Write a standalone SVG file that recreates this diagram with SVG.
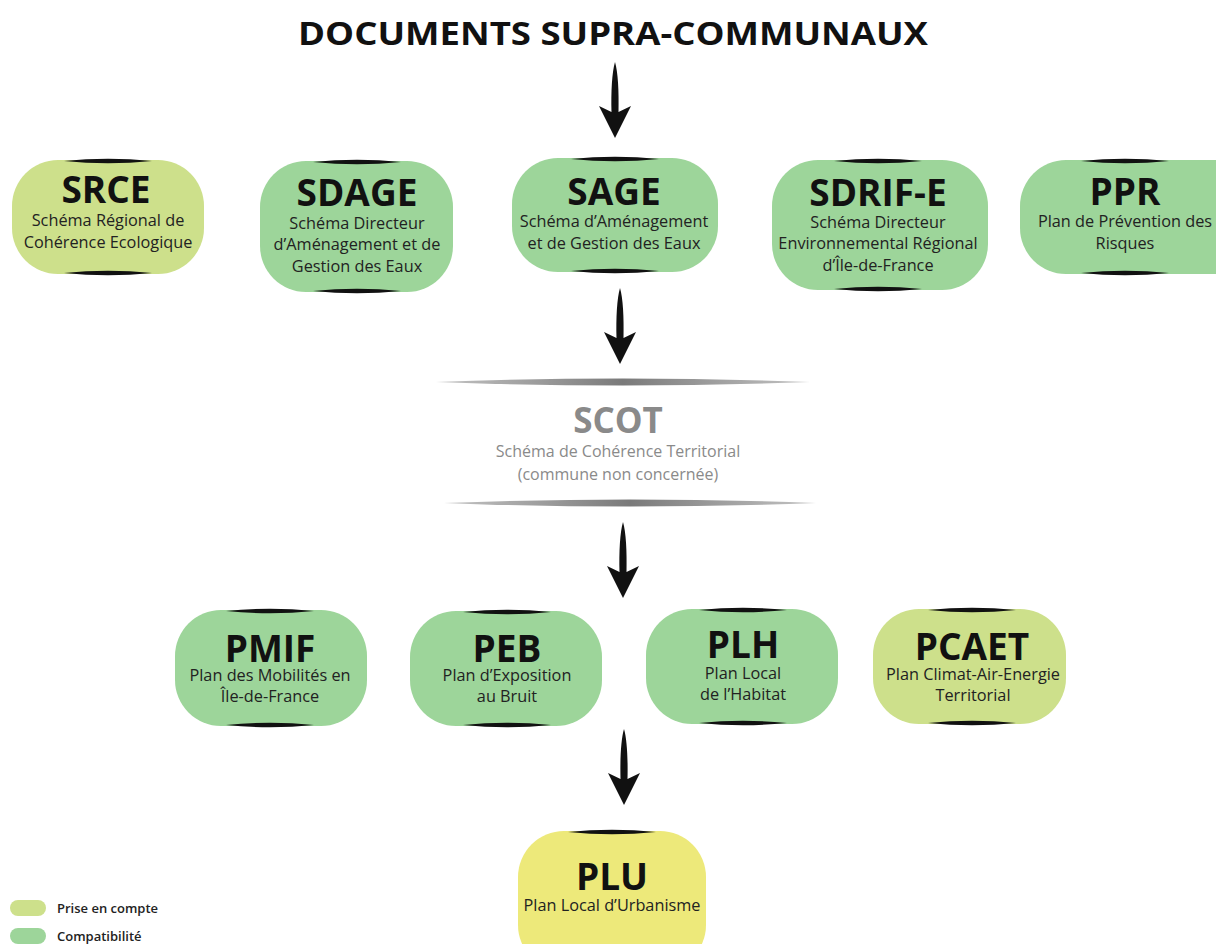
<svg xmlns="http://www.w3.org/2000/svg" width="1216" height="944" viewBox="0 0 1216 944">
<style>
.pc{fill:#cde08b}
.co{fill:#9dd59a}
.plu{fill:#ede97a}
.t{font-family:"Open Sans","Liberation Sans",sans-serif;font-weight:700;font-size:37px;fill:#111;text-anchor:middle}
.s{font-family:"Open Sans","Liberation Sans",sans-serif;font-size:16.3px;fill:#222;text-anchor:middle}
.gt{font-family:"Open Sans","Liberation Sans",sans-serif;font-weight:700;font-size:35px;fill:#8a8a8a;text-anchor:middle}
.gs{font-family:"Open Sans","Liberation Sans",sans-serif;font-size:16px;fill:#8a8a8a;text-anchor:middle}
.leg{font-family:"Open Sans","Liberation Sans",sans-serif;font-size:13px;font-weight:600;fill:#222}
.mark{fill:#111}
</style>
<defs>
<path id="arrow" d="M0,0 C3,10 4,30 3.5,50 L16,44 L0,76 L-16,44 L-3.5,50 C-4,30 -3,10 0,0 Z" fill="#111"/>
<path id="mk" d="M-44,0 Q0,-4.5 44,0 Q0,4.5 -44,0 Z" class="mark"/>
<linearGradient id="gl" x1="0" x2="1" y1="0" y2="0">
<stop offset="0" stop-color="#c4c4c4"/><stop offset="0.5" stop-color="#7a7a7a"/><stop offset="1" stop-color="#c4c4c4"/>
</linearGradient>
</defs>

<text x="613" y="45" font-family="'Open Sans','Liberation Sans',sans-serif" font-weight="700" font-size="33" fill="#111" text-anchor="middle" textLength="630" lengthAdjust="spacingAndGlyphs">DOCUMENTS SUPRA-COMMUNAUX</text>

<g id="connectors">
<use href="#arrow" x="615" y="62"/>
<use href="#arrow" x="620" y="288"/>
<use href="#arrow" x="623" y="522"/>
<use href="#arrow" x="624" y="729"/>
</g>

<g id="SRCE">
<rect class="pc" x="12" y="160" width="192" height="114" rx="46"/>
<use href="#mk" x="108" y="161"/><use href="#mk" x="108" y="273"/>
<text class="t" x="106" y="203">SRCE</text>
<text class="s" x="108" y="226">Schéma Régional de</text>
<text class="s" x="108" y="248">Cohérence Ecologique</text>
</g>

<g id="SDAGE">
<rect class="co" x="260" y="161" width="193" height="131" rx="46"/>
<use href="#mk" x="357" y="162"/><use href="#mk" x="357" y="291"/>
<text class="t" x="357" y="206">SDAGE</text>
<text class="s" x="357" y="229">Schéma Directeur</text>
<text class="s" x="357" y="250">d’Aménagement et de</text>
<text class="s" x="357" y="272">Gestion des Eaux</text>
</g>

<g id="SAGE">
<rect class="co" x="512" y="158" width="206" height="114" rx="46"/>
<use href="#mk" x="615" y="159"/><use href="#mk" x="615" y="271"/>
<text class="t" x="614" y="205">SAGE</text>
<text class="s" x="614" y="227">Schéma d’Aménagement</text>
<text class="s" x="614" y="249">et de Gestion des Eaux</text>
</g>

<g id="SDRIF-E">
<rect class="co" x="772" y="160" width="216" height="130" rx="46"/>
<use href="#mk" x="878" y="161"/><use href="#mk" x="878" y="289"/>
<text class="t" x="878" y="206">SDRIF-E</text>
<text class="s" x="878" y="228">Schéma Directeur</text>
<text class="s" x="878" y="249">Environnemental Régional</text>
<text class="s" x="878" y="271">d’Île-de-France</text>
</g>

<g id="PPR">
<rect class="co" x="1020" y="160" width="240" height="114" rx="46"/>
<use href="#mk" x="1125" y="161"/><use href="#mk" x="1125" y="273"/>
<text class="t" x="1125" y="205">PPR</text>
<text class="s" x="1125" y="227">Plan de Prévention des</text>
<text class="s" x="1125" y="249">Risques</text>
</g>

<g id="SCOT">
<path d="M436,382 Q623,375 810,382 Q623,389 436,382 Z" fill="url(#gl)"/>
<path d="M444,503 Q630,496 816,503 Q630,510 444,503 Z" fill="url(#gl)"/>
<text class="gt" x="618" y="433">SCOT</text>
<text class="gs" x="618" y="457">Schéma de Cohérence Territorial</text>
<text class="gs" x="618" y="480">(commune non concernée)</text>
</g>

<g id="PMIF">
<rect class="co" x="175" y="610" width="192" height="116" rx="46"/>
<use href="#mk" x="270" y="611"/><use href="#mk" x="270" y="725"/>
<text class="t" x="270" y="662">PMIF</text>
<text class="s" x="270" y="681">Plan des Mobilités en</text>
<text class="s" x="270" y="702">Île-de-France</text>
</g>

<g id="PEB">
<rect class="co" x="410" y="611" width="192" height="115" rx="46"/>
<use href="#mk" x="507" y="612"/><use href="#mk" x="507" y="725"/>
<text class="t" x="507" y="662">PEB</text>
<text class="s" x="507" y="681">Plan d’Exposition</text>
<text class="s" x="507" y="702">au Bruit</text>
</g>

<g id="PLH">
<rect class="co" x="646" y="609" width="192" height="115" rx="46"/>
<use href="#mk" x="743" y="610"/><use href="#mk" x="743" y="723"/>
<text class="t" x="743" y="658">PLH</text>
<text class="s" x="743" y="679">Plan Local</text>
<text class="s" x="743" y="700">de l’Habitat</text>
</g>

<g id="PCAET">
<rect class="pc" x="873" y="609" width="193" height="115" rx="46"/>
<use href="#mk" x="972" y="610"/><use href="#mk" x="972" y="723"/>
<text class="t" x="972" y="660">PCAET</text>
<text class="s" x="973" y="680">Plan Climat-Air-Energie</text>
<text class="s" x="973" y="701">Territorial</text>
</g>

<g id="PLU">
<rect class="plu" x="518" y="831" width="188" height="140" rx="46"/>
<use href="#mk" x="612" y="832"/>
<text class="t" x="612" y="890">PLU</text>
<text class="s" x="612" y="911">Plan Local d’Urbanisme</text>
</g>

<g id="legend">
<rect class="pc" x="10" y="900" width="36" height="16" rx="8"/>
<text class="leg" x="57" y="913">Prise en compte</text>
<rect class="co" x="10" y="928" width="36" height="16" rx="8"/>
<text class="leg" x="57" y="941">Compatibilité</text>
</g>
</svg>
